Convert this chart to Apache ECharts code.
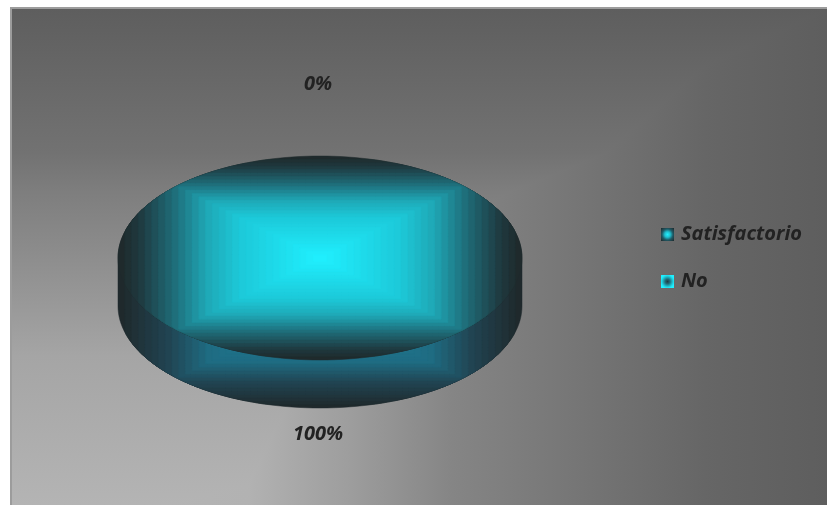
<!DOCTYPE html>
<html>
<head>
<meta charset="utf-8">
<style>html,body{margin:0;padding:0;background:#fff}#c{width:827px;height:505px}</style>
<script src="https://cdn.jsdelivr.net/npm/echarts@6/dist/echarts.min.js"></script>
</head>
<body>
<div id="c"></div>
<script>
const categories = ['Satisfactorio', 'No'];
const values = [0, 100];

const total = values.reduce((a, b) => a + b, 0);
const FONT = '"Open Sans"';
const C = {cx: 320, cy: 258, rx: 202, ry: 102, depth: 48, steps: 30, labelR: 175};
const faceStops = [[0,[32,240,255]],[.4,[29,200,216]],[.56,[31,168,182]],[.73,[31,106,118]],[.89,[31,58,64]],[1,[31,39,41]]];
const sideStops = [[0,[30,130,160]],[.55,[31,108,130]],[.75,[33,68,82]],[1,[31,39,41]]];

function ramp(stops, t) {
  for (let i = 1; i < stops.length; i++) {
    if (t <= stops[i][0]) {
      const a = stops[i-1], b = stops[i], k = (t - a[0]) / (b[0] - a[0]);
      return 'rgb(' + a[1].map((v, j) => Math.round(v + (b[1][j] - v) * k)).join(',') + ')';
    }
  }
  return 'rgb(' + stops[stops.length-1][1].join(',') + ')';
}
function outline(a0, a1, cy) {
  const pts = [], n = 180;
  if (a1 - a0 < Math.PI * 2 - 1e-6) pts.push([C.cx, cy]);
  for (let i = 0; i <= n; i++) {
    const a = a0 + (a1 - a0) * i / n;
    pts.push([C.cx + C.rx * Math.sin(a), cy - C.ry * Math.cos(a)]);
  }
  return pts;
}
function bands(pts, cy, stops) {
  const out = [];
  for (let s = C.steps; s >= 1; s--) {
    const t = s / C.steps, hw = C.rx * t, hh = C.ry * t;
    const clamped = pts.map(p => [
      Math.min(C.cx + hw, Math.max(C.cx - hw, p[0])),
      Math.min(cy + hh, Math.max(cy - hh, p[1]))
    ]);
    const col = ramp(stops, t - 0.5 / C.steps);
    out.push({type: 'polygon', shape: {points: clamped}, style: {fill: col, stroke: col, lineWidth: 0.5}, silent: true});
  }
  return out;
}
function hull(a0, a1) {
  const top = outline(a0, a1, C.cy).filter(p => p[1] <= C.cy + 1e-6);
  const bottom = outline(a0, a1, C.cy + C.depth).filter(p => p[1] >= C.cy + C.depth - 1e-6);
  return top.concat(bottom).sort((p, q) =>
    Math.atan2(p[0] - C.cx, C.cy + C.depth / 2 - p[1]) - Math.atan2(q[0] - C.cx, C.cy + C.depth / 2 - q[1]));
}
function renderSlice(index) {
  return function (params, api) {
    const before = values.slice(0, index).reduce((a, b) => a + b, 0);
    const a0 = before / total * Math.PI * 2;
    const a1 = (before + api.value(0)) / total * Math.PI * 2;
    const mid = (a0 + a1) / 2;
    const kids = [];
    if (a1 > a0) {
      kids.push(...bands(hull(a0, a1), C.cy + C.depth, sideStops));
      kids.push(...bands(outline(a0, a1, C.cy), C.cy, faceStops));
    }
    kids.push({
      type: 'text',
      style: {
        x: C.cx + C.labelR * Math.sin(mid) - 2,
        y: C.cy - C.labelR * Math.cos(mid) + 1,
        text: Math.round(api.value(0) / total * 100) + '%',
        font: 'italic bold 20px ' + FONT,
        fill: '#222222', align: 'center', verticalAlign: 'middle'
      },
      silent: true
    });
    return {type: 'group', children: kids};
  };
}
const swatch = [
  {type: 'radial', x: .5, y: .5, r: .7, colorStops: [{offset: 0, color: '#20f0ff'},{offset: .3, color: '#1fc0d0'},{offset: .6, color: '#1f5a66'},{offset: 1, color: '#1f2729'}]},
  {type: 'radial', x: .5, y: .5, r: .7, colorStops: [{offset: 0, color: '#1f3a42'},{offset: .25, color: '#1f6a76'},{offset: .6, color: '#1fd0e0'},{offset: .75, color: '#20f0ff'},{offset: 1, color: '#20f0ff'}]}
];
const grey = v => 'rgb(' + v + ',' + v + ',' + v + ')';
const chart = echarts.init(document.getElementById('c'), null, {renderer: 'canvas'});
const PW = 817, PH = 497;
chart.setOption({
  animation: false,
  backgroundColor: '#ffffff',
  graphic: [
    {type: 'rect', z: -10, left: 10, top: 7, shape: {width: PW, height: PH + 1}, style: {fill: '#9c9c9c'}, silent: true},
    {type: 'rect', z: -9, left: 12, top: 9, shape: {width: PW - 2, height: PH - 1},
      style: {fill: new echarts.graphic.LinearGradient(0, 0, 0, 1, [
        {offset: 0, color: grey(0x5e)}, {offset: .29, color: grey(0x72)}, {offset: .37, color: grey(0x7e)},
        {offset: .49, color: grey(0x8c)}, {offset: .7, color: grey(0xa5)}, {offset: 1, color: grey(0xb4)}])}, silent: true},
    {type: 'rect', z: -8, left: 12, top: 9, shape: {width: PW - 2, height: PH - 1},
      style: {blend: 'darken', fill: new echarts.graphic.LinearGradient(0, 0, 1, 0, [
        {offset: 0, color: grey(0xb8)}, {offset: .29, color: grey(0xb2)}, {offset: .41, color: grey(0x9e)},
        {offset: .54, color: grey(0x85)}, {offset: .65, color: grey(0x7a)}, {offset: .85, color: grey(0x66)}, {offset: 1, color: grey(0x5e)}])}, silent: true}
  ],
  legend: {
    orient: 'vertical', left: 656, top: 216, itemWidth: 13, itemHeight: 13, itemGap: 20,
    selectedMode: false,
    textStyle: {fontFamily: FONT, fontStyle: 'italic', fontWeight: 'bold', fontSize: 20, color: '#222222', lineHeight: 27, padding: [0, 0, 0, 2]},
    data: categories.map((n, i) => ({name: n, icon: 'rect', itemStyle: {color: swatch[i]}}))
  },
  series: categories.map((n, i) => ({
    type: 'custom', name: n, coordinateSystem: 'none', clip: false,
    renderItem: renderSlice(i),
    data: [[values[i]]]
  }))
});
</script>
</body>
</html>
